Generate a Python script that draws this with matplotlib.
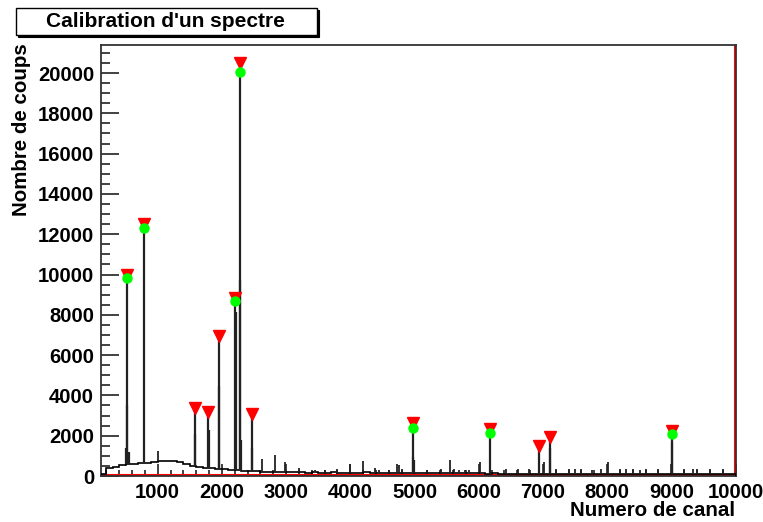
import numpy as np
import matplotlib
matplotlib.use("Agg")
import matplotlib.pyplot as plt
from matplotlib.patches import Rectangle
from matplotlib.ticker import MultipleLocator

plt.rcParams['font.family'] = ['Liberation Sans', 'DejaVu Sans']
plt.rcParams['font.weight'] = 'bold'

# ---- data ----
title = "Calibration d'un spectre"
xlabel = "Numero de canal"
ylabel = "Nombre de coups"

bin_start = 100
bin_width = 100
# continuum counts per 100-channel bin, 100..10000
baseline_counts = [
    80, 380, 460, 560, 600, 590, 640, 660, 700, 720,
    740, 730, 680, 600, 520, 450, 410, 380, 360, 330,
    310, 290, 260, 240, 225, 215, 200, 195, 190,
    185, 180, 175, 170, 185, 170, 165, 175, 170, 160,
    170, 165, 175, 160, 170, 165, 160, 170, 160, 155, 165,
    150, 160, 145, 155, 150, 145, 150, 140, 145, 140,
    120, 125, 115, 120, 115, 120, 110, 120, 115, 110,
    115, 110, 115, 105, 110, 110, 105, 110, 100, 105,
    100, 105, 100, 100, 95, 100, 105, 100, 95, 100,
    100, 95, 100, 95, 95, 100, 90, 95, 95,
]

# peaks found (red triangles)
peak_ch = [529, 789, 1583, 1785, 1956, 2200, 2288, 2470, 4980, 6178, 6944, 7117, 9007]
peak_h = [10000, 12500, 3360, 3160, 6950, 8850, 20500, 3080, 2610, 2330, 1500, 1950, 2250]

# calibration peaks (green circles)
calib_ch = [529, 789, 2200, 2288, 4980, 6178, 9007]
calib_h = [9850, 12300, 8700, 20060, 2400, 2120, 2070]

# neighbouring bins of the peaks
shoulder_ch = [510, 520, 550, 1575, 1792, 1948, 2212, 2280, 2300, 2462, 4970, 4990, 7110, 9015]
shoulder_h = [1400, 3520, 1200, 2080, 2280, 4470, 8150, 9730, 1790, 1390, 960, 800, 1370, 1700]

# small lines of the spectrum
spike_ch = [1010, 2625, 2833, 2990, 3200, 3450, 3600, 3800, 3995, 4200, 4380, 4450,
            4600, 4720, 4760, 4800, 5192, 5410, 5550, 5620, 5700, 5780, 5850, 6015,
            6420, 6610, 6790, 7010, 7200, 7410, 7500, 7600, 7770, 7900, 8010, 8200,
            8300, 8400, 8520, 8610, 8800, 9200, 9340, 9400, 9610, 9800]
spike_h = [1220, 820, 1020, 690, 400, 320, 300, 330, 600, 740, 380, 300,
           320, 600, 550, 350, 300, 330, 800, 330, 280, 300, 280, 690,
           330, 350, 350, 690, 350, 350, 350, 350, 300, 350, 690, 350,
           350, 350, 300, 350, 350, 350, 350, 330, 350, 350]

background_level = 60

x_min, x_max = 117, 10000
y_min, y_max = 0, 21390

# ---- figure ----
W, H = 763, 522
fig = plt.figure(figsize=(W / 100, H / 100), dpi=100)
L, R, T, B = 101, 735.5, 45, 476
ax = fig.add_axes([L / W, 1 - B / H, (R - L) / W, (B - T) / H])

edges = bin_start + bin_width * np.arange(len(baseline_counts) + 1)
counts = np.array(baseline_counts, dtype=float)
ax.stairs(counts, edges, color='black', lw=1.2, zorder=3)


def base_at(ch):
    idx = np.clip((np.asarray(ch) - bin_start) // bin_width, 0, len(counts) - 1).astype(int)
    return counts[idx]


ax.vlines(spike_ch, base_at(spike_ch), spike_h, color='#222222', lw=1.3, zorder=3)
ax.vlines(shoulder_ch, base_at(shoulder_ch), shoulder_h, color='#222222', lw=1.6, zorder=3)
ax.vlines(peak_ch, base_at(peak_ch), peak_h, color='#222222', lw=1.6, zorder=3)

# background (red)
ax.plot([x_min, 9992, 9992], [background_level, background_level, 25000],
        color='red', lw=1.5, zorder=2)

ax.plot(peak_ch, peak_h, linestyle='none', marker='v', color='red', ms=9, zorder=5)
ax.plot(calib_ch, calib_h, linestyle='none', marker='o', color='#00ff00', ms=6.5, zorder=6)

ax.set_xlim(x_min, x_max)
ax.set_ylim(y_min, y_max)

ax.xaxis.set_major_locator(MultipleLocator(1000))
ax.xaxis.set_minor_locator(MultipleLocator(200))
ax.yaxis.set_major_locator(MultipleLocator(2000))
ax.yaxis.set_minor_locator(MultipleLocator(500))

ax.tick_params(axis='both', which='both', direction='in', top=False, right=False,
               colors='#333333', labelcolor='black', labelsize=14.6, width=1.3)
ax.tick_params(axis='y', which='major', length=13)
ax.tick_params(axis='y', which='minor', length=6.5)
ax.tick_params(axis='x', which='major', length=9)
ax.tick_params(axis='x', which='minor', length=4.5)
ax.tick_params(axis='y', pad=5)
ax.tick_params(axis='x', pad=5)
for lab in ax.get_xticklabels() + ax.get_yticklabels():
    lab.set_fontweight('bold')

for s in ax.spines.values():
    s.set_linewidth(1.3)
    s.set_color('#333333')

fig.text(R / W, 1 - 511 / H, xlabel, ha='right', va='center', fontsize=14.8, fontweight='bold')
fig.text(22 / W, 1 - (T - 2) / H, ylabel, ha='center', va='top', rotation=90,
         fontsize=14.8, fontweight='bold')

# title box with shadow
bx0, bx1, by0, by1 = 16, 317, 8, 35
fig.patches.append(Rectangle(((bx0 + 2) / W, 1 - (by1 + 2) / H), (bx1 - bx0) / W, (by1 - by0) / H,
                             transform=fig.transFigure, facecolor='black', edgecolor='black',
                             lw=0.8, zorder=1))
fig.patches.append(Rectangle((bx0 / W, 1 - by1 / H), (bx1 - bx0) / W, (by1 - by0) / H,
                             transform=fig.transFigure, facecolor='white', edgecolor='black',
                             lw=1.0, zorder=2))
fig.text(165 / W, 1 - 21.5 / H, title, ha='center', va='center', fontsize=15,
         fontweight='bold', zorder=3)

fig.savefig('out.png', dpi=100)
